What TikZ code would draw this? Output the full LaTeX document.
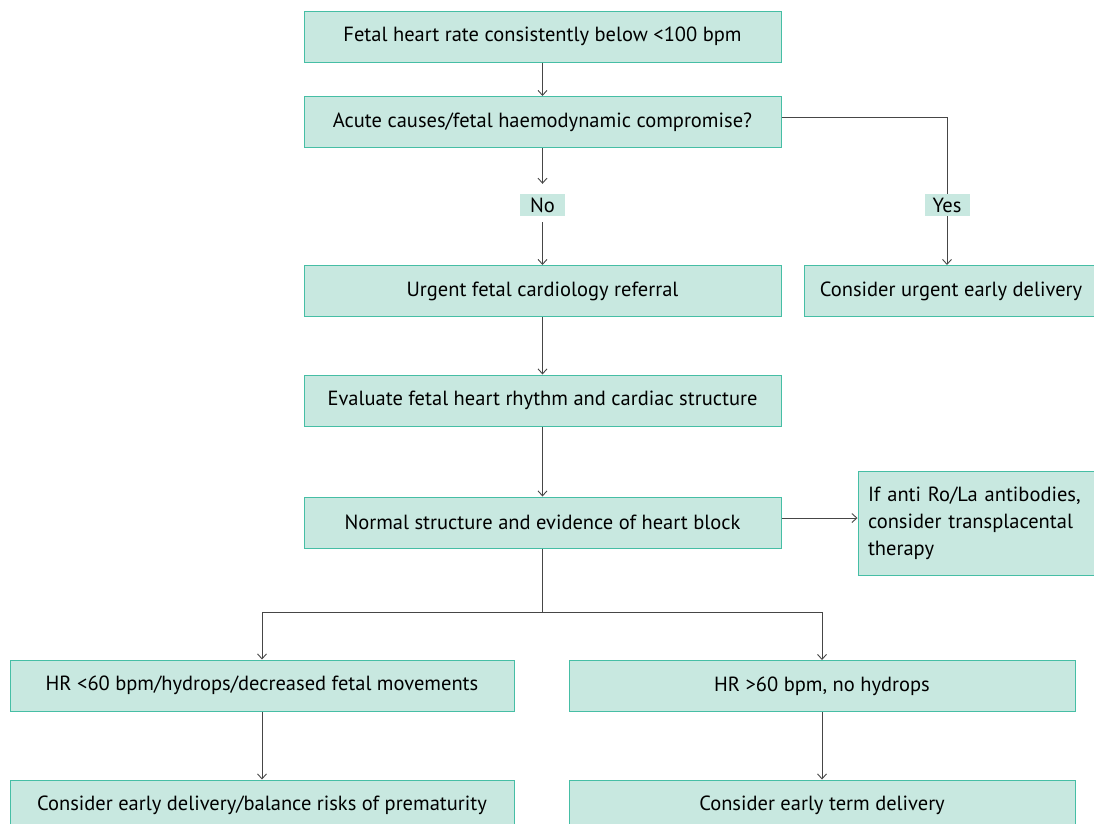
\documentclass[tikz,border=0pt]{standalone}
\usepackage{fontspec}
\setmainfont{PT Sans}
\usetikzlibrary{arrows.meta}
\definecolor{boxfill}{RGB}{200,232,224}
\definecolor{boxline}{RGB}{70,190,165}
\definecolor{conn}{RGB}{70,70,70}
\tikzset{
  flowbox/.style={draw=boxline, fill=boxfill, line width=1pt, rectangle, inner sep=2pt, font=\fontsize{20.5}{27}\selectfont, align=center},
  lbl/.style={fill=boxfill, rectangle, inner sep=0pt, minimum width=45pt, minimum height=22pt, font=\fontsize{20.5}{27}\selectfont},
  conline/.style={draw=conn, line width=0.9pt},
  arr/.style={conline, -{Straight Barb[length=5pt,width=9pt]}}
}
\begin{document}
\begin{tikzpicture}[x=1pt,y=-1pt]
\useasboundingbox (0,0) rectangle (1094,823);
\clip (0,0) rectangle (1094,823);
\node[flowbox, minimum width=477pt, minimum height=51pt] (b1) at (542.5,36.5) {Fetal heart rate consistently below <100 bpm};
\node[flowbox, minimum width=477pt, minimum height=51pt] (b2) at (542.5,122) {Acute causes/fetal haemodynamic compromise?};
\node[lbl] (no) at (542.5,205) {No};
\node[lbl] (yes) at (947,205) {Yes};
\node[flowbox, minimum width=477pt, minimum height=51pt] (b3) at (542.5,291) {Urgent fetal cardiology referral};
\node[flowbox, minimum width=294pt, minimum height=51pt] (yb) at (951,291) {Consider urgent early delivery};
\node[flowbox, minimum width=240pt, minimum height=104pt, align=left, text width=220pt, inner xsep=10pt, inner ysep=6pt] (b6) at (978,523) {If anti Ro/La antibodies,\\consider transplacental\\therapy};
\node[flowbox, minimum width=477pt, minimum height=51pt] (b4) at (542.5,400.5) {Evaluate fetal heart rhythm and cardiac structure};
\node[flowbox, minimum width=477pt, minimum height=51pt] (b5) at (542.5,522.5) {Normal structure and evidence of heart block};
\node[flowbox, minimum width=504pt, minimum height=51pt] (b7) at (262,685.5) {HR <60 bpm/hydrops/decreased fetal movements};
\node[flowbox, minimum width=506pt, minimum height=51pt] (b8) at (822,686) {HR >60 bpm, no hydrops};
\node[flowbox, minimum width=504pt, minimum height=51pt] (b9) at (262,805.5) {Consider early delivery/balance risks of prematurity};
\node[flowbox, minimum width=506pt, minimum height=51pt] (b10) at (822,805.5) {Consider early term delivery};
\coordinate (split) at (542.5,612);
\draw[arr] (b1) -- (b2);
\draw[arr, shorten >=10pt] (b2) -- (no);
\draw[arr, shorten <=6pt] (no) -- (b3);
\draw[conline] (b2.east |- 0,117) -| (yes.north);
\draw[arr] (yes) -- (yb.north -| yes);
\draw[arr] (b3) -- (b4);
\draw[arr] (b4) -- (b5);
\draw[arr] (b5.east |- 0,518) -- (b6.west |- 0,518);
\draw[conline] (b5.south) -- (split);
\draw[arr] (split) -| (b7.north);
\draw[arr] (split) -| (b8.north);
\draw[arr] (b7) -- (b9);
\draw[arr] (b8) -- (b10);
\end{tikzpicture}
\end{document}
